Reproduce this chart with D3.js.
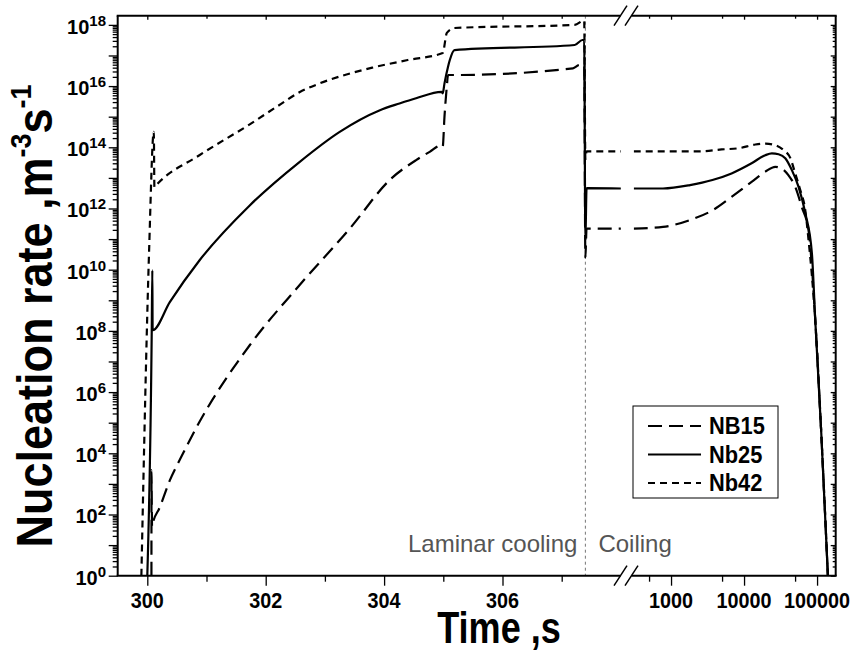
<!DOCTYPE html>
<html><head><meta charset="utf-8">
<script src="https://cdn.jsdelivr.net/npm/d3@7"></script>
<style>html,body{margin:0;padding:0;background:#fff;}svg{display:block;font-family:"Liberation Sans",Arial,Helvetica,sans-serif;}</style>
</head><body>
<svg id="chart" width="856" height="653"></svg>
<script>
// ---------- data ----------
const laminarTicks = [300, 302, 304, 306];
const laminarMinorTicks = [301, 303, 305, 307];
const coilingTicks = [1000, 10000, 100000];
const coilingMinorTicks = [500, 5000, 50000];
const yTickExponents = [0, 2, 4, 6, 8, 10, 12, 14, 16, 18];
const seriesNames = ["NB15", "Nb25", "Nb42"];
const phaseLabels = ["Laminar cooling", "Coiling"];
const phaseBoundary = 307.4;

const nb15LaminarTime = [300.07, 300.071, 300.08, 300.09, 300.21, 300.38, 300.57, 300.88, 301.73, 302.57, 303.42, 304.12, 304.54, 304.77, 304.97, 304.99, 305.02, 305.06, 305.08, 305.19, 307.19, 307.30, 307.38, 307.40, 307.42, 308.0];
const nb15LaminarRate = [1, 2.8e3, 40, 49, 170, 1.3e3, 7.4e3, 1.05e5, 3.4e7, 3.1e9, 2.2e11, 9.5e12, 3.8e13, 7.1e13, 1.17e14, 1.05e14, 1.0e15, 1.0e16, 2.3e16, 2.3e16, 3.8e16, 4.9e16, 4.9e16, 2.5e10, 2.2e11, 2.2e11];
const nb15CoilingTime = [308, 776, 1819, 3687, 6744, 12690, 19530, 26770, 32960, 40700, 50290, 61930, 76500, 84900, 94500, 114200, 140700];
const nb15CoilingRate = [2.2e11, 2.5e11, 4.2e11, 8.7e11, 2.4e12, 7.4e12, 1.6e13, 2.3e13, 2.0e13, 1.2e13, 5.1e12, 1.1e12, 1.9e11, 1.3e10, 2.2e8, 4.5e4, 1];

const nb25LaminarTime = [300.0, 300.075, 300.085, 300.09, 300.38, 300.88, 301.73, 302.57, 303.25, 303.92, 304.26, 304.54, 304.97, 304.99, 305.02, 305.08, 305.11, 305.19, 307.22, 307.35, 307.38, 307.40, 307.42, 308.0];
const nb25LaminarRate = [1, 1.0e8, 9.5e9, 1.05e8, 8.7e8, 2.0e10, 1.26e12, 3.3e13, 3.2e14, 1.6e15, 2.7e15, 4.0e15, 6.5e15, 5.8e15, 1.23e16, 4.3e16, 7.1e16, 1.5e17, 2.2e17, 3.2e17, 3.2e17, 9.1e10, 4.6e12, 4.5e12];
const nb25CoilingTime = [308, 776, 1819, 3687, 6744, 12690, 19530, 24040, 29700, 36690, 45170, 55810, 68960, 84900, 94500, 114200, 140700];
const nb25CoilingRate = [4.5e12, 4.5e12, 5.8e12, 8.5e12, 1.4e13, 3.0e13, 5.5e13, 6.3e13, 5.9e13, 4.4e13, 1.8e13, 5.1e12, 7.1e11, 3.5e10, 2.2e8, 4.5e4, 1];

const nb42LaminarTime = [299.90, 300.03, 300.11, 300.12, 300.15, 300.88, 301.73, 302.2, 302.57, 302.9, 303.3, 303.8, 304.4, 304.99, 305.06, 305.19, 307.22, 307.38, 307.40, 307.42, 308.0];
const nb42LaminarRate = [1, 4.0e10, 3.2e14, 5.0e12, 5.8e12, 5.5e13, 5.6e14, 2.2e15, 6.3e15, 1.2e16, 2.2e16, 4.0e16, 7.1e16, 1.2e17, 5.5e17, 7.9e17, 1.0e18, 1.4e18, 4.0e13, 7.4e13, 7.4e13];
const nb42CoilingTime = [308, 2494, 4920, 8417, 14240, 19710, 26770, 34770, 42950, 50290, 58880, 68960, 76500, 84900, 94500, 114200, 140700];
const nb42CoilingRate = [7.4e13, 7.4e13, 8.5e13, 9.3e13, 1.23e14, 1.32e14, 1.17e14, 8.1e13, 4.5e13, 1.38e13, 4.0e12, 8.7e11, 9.1e10, 6.6e9, 2.2e8, 4.5e4, 1];

// ---------- layout ----------
const X0 = 117.7, XB1 = 620.9, XB2 = 633.7, X1 = 835.7, Y0 = 575.7, Y1 = 15.7;
const xL = d3.scaleLinear().domain([299.5, 308.0]).range([X0, XB1]);
const xR = d3.scaleLog().domain([308, 1.8e5]).range([XB2, X1]);
const y = d3.scaleLog().domain([1, Math.pow(10, 18.3)]).range([Y0, Y1]);

const styles = {
  NB15: {dash: "14,7", w: 2.2},
  Nb25: {dash: null, w: 2.2},
  Nb42: {dash: "7,5", w: 2.2}
};
const series = [
  {name: "NB15", lt: nb15LaminarTime, lr: nb15LaminarRate, ct: nb15CoilingTime, cr: nb15CoilingRate},
  {name: "Nb25", lt: nb25LaminarTime, lr: nb25LaminarRate, ct: nb25CoilingTime, cr: nb25CoilingRate},
  {name: "Nb42", lt: nb42LaminarTime, lr: nb42LaminarRate, ct: nb42CoilingTime, cr: nb42CoilingRate}
];

const svg = d3.select("#chart");
const defs = svg.append("defs");
defs.append("clipPath").attr("id", "clipL").append("rect").attr("x", X0).attr("y", Y1).attr("width", XB1 - X0).attr("height", Y0 - Y1);
defs.append("clipPath").attr("id", "clipR").append("rect").attr("x", XB2).attr("y", Y1).attr("width", X1 - XB2).attr("height", Y0 - Y1);

function label(parent, x, yy, anchor, size, weight, fill, sx, parts, extra) {
  const g = parent.append("g").attr("transform", `translate(${x},${yy}) ${extra || ""} scale(${sx},1)`);
  const t = g.append("text").attr("text-anchor", anchor).attr("font-size", size).attr("font-weight", weight).attr("fill", fill);
  parts.forEach(p => {
    const ts = t.append("tspan").text(p.text);
    if (p.size) ts.attr("font-size", p.size);
    if (p.dy) ts.attr("dy", p.dy);
  });
  return g;
}

// phase boundary line
svg.append("line").attr("x1", xL(phaseBoundary)).attr("x2", xL(phaseBoundary)).attr("y1", Y1).attr("y2", Y0)
  .attr("stroke", "#777").attr("stroke-width", 1).attr("stroke-dasharray", "3,3");

// curves
const lineL = d3.line().x(d => xL(d[0])).y(d => y(d[1])).curve(d3.curveMonotoneX);
const lineR = d3.line().x(d => xR(d[0])).y(d => y(d[1])).curve(d3.curveMonotoneX);
const gL = svg.append("g").attr("clip-path", "url(#clipL)");
const gR = svg.append("g").attr("clip-path", "url(#clipR)");
series.forEach(s => {
  const st = styles[s.name];
  gL.append("path").datum(d3.zip(s.lt, s.lr)).attr("d", lineL).attr("fill", "none").attr("stroke", "#000")
    .attr("stroke-width", st.w).attr("stroke-dasharray", st.dash).attr("stroke-linejoin", "round");
  gR.append("path").datum(d3.zip(s.ct, s.cr)).attr("d", lineR).attr("fill", "none").attr("stroke", "#000")
    .attr("stroke-width", st.w).attr("stroke-dasharray", st.dash).attr("stroke-linejoin", "round");
});

// ---------- axes ----------
const yMinor = [];
for (let e = 0; e < 19; e++) for (let m = 2; m <= 9; m++) { const v = m * Math.pow(10, e); if (v <= y.domain()[1]) yMinor.push(v); }
const yDecades = d3.range(0, 19).map(e => Math.pow(10, e));
const leftAx = svg.append("g").attr("transform", `translate(${X0},0)`);
leftAx.call(d3.axisLeft(y).tickValues(yDecades).tickSize(9).tickFormat(""));
leftAx.append("g").call(d3.axisLeft(y).tickValues(yMinor).tickSize(5).tickFormat(""));
const rightAx = svg.append("g").attr("transform", `translate(${X1},0)`);
rightAx.call(d3.axisRight(y).tickValues(yDecades).tickSize(-5).tickFormat(""));
rightAx.append("g").call(d3.axisRight(y).tickValues(yMinor).tickSize(-3).tickFormat(""));
const botL = svg.append("g").attr("transform", `translate(0,${Y0})`);
botL.call(d3.axisBottom(xL).tickValues(laminarTicks).tickSize(10).tickFormat(""));
botL.append("g").call(d3.axisBottom(xL).tickValues(laminarMinorTicks).tickSize(6).tickFormat(""));
const botR = svg.append("g").attr("transform", `translate(0,${Y0})`);
botR.call(d3.axisBottom(xR).tickValues(coilingTicks).tickSize(10).tickFormat(""));
botR.append("g").call(d3.axisBottom(xR).tickValues(coilingMinorTicks).tickSize(6).tickFormat(""));
const topL = svg.append("g").attr("transform", `translate(0,${Y1})`);
topL.call(d3.axisTop(xL).tickValues(laminarTicks).tickSize(-4).tickFormat(""));
topL.append("g").call(d3.axisTop(xL).tickValues(laminarMinorTicks).tickSize(-3).tickFormat(""));
const topR = svg.append("g").attr("transform", `translate(0,${Y1})`);
topR.call(d3.axisTop(xR).tickValues(coilingTicks).tickSize(-4).tickFormat(""));
topR.append("g").call(d3.axisTop(xR).tickValues(coilingMinorTicks).tickSize(-3).tickFormat(""));
svg.selectAll(".domain").remove();
svg.selectAll(".tick line").attr("stroke", "#000").attr("stroke-width", 1.3);

// frame with breaks
const frame = svg.append("g").attr("stroke", "#000").attr("stroke-width", 2).attr("fill", "none");
const bx1 = 620.5, bx2 = 631.5;
[Y0, Y1].forEach(yy => {
  frame.append("line").attr("x1", X0 - 1).attr("x2", bx1).attr("y1", yy).attr("y2", yy);
  frame.append("line").attr("x1", bx2).attr("x2", X1 + 1).attr("y1", yy).attr("y2", yy);
  [bx1, bx2].forEach(bx => frame.append("line").attr("stroke-width", 1.5)
    .attr("x1", bx - 6.5).attr("y1", yy + 10).attr("x2", bx + 6.5).attr("y2", yy - 10));
});
frame.append("line").attr("x1", X0).attr("x2", X0).attr("y1", Y1).attr("y2", Y0);
frame.append("line").attr("x1", X1).attr("x2", X1).attr("y1", Y1).attr("y2", Y0);

// ---------- tick labels ----------
laminarTicks.forEach(t => label(svg, xL(t), 608, "middle", 22, "bold", "#000", 0.9, [{text: String(t)}]));
coilingTicks.forEach(t => label(svg, xR(t), 608, "middle", 22, "bold", "#000", 0.9, [{text: String(t)}]));
yTickExponents.forEach(e => label(svg, 106, y(Math.pow(10, e)) + 9, "end", 20, "bold", "#000", 1,
  [{text: "10"}, {text: String(e), size: 15, dy: -8}]));

// ---------- phase labels ----------
label(svg, xL(phaseBoundary) - 8, 552, "end", 24, "normal", "#555", 1, [{text: phaseLabels[0]}]);
label(svg, xL(phaseBoundary) + 13, 552, "start", 24, "normal", "#555", 1, [{text: phaseLabels[1]}]);

// ---------- axis titles ----------
label(svg, 499, 643, "middle", 44, "bold", "#000", 0.82, [{text: "Time ,s"}]);
label(svg, 52, 316, "middle", 50, "bold", "#000", 0.9,
  [{text: "Nucleation rate ,m"}, {text: "-3", size: 30, dy: -21}, {text: "s", dy: 21}, {text: "-1", size: 30, dy: -21}],
  "rotate(-90)");

// ---------- legend ----------
const lg = svg.append("g");
lg.append("rect").attr("x", 633).attr("y", 406).attr("width", 145).attr("height", 92)
  .attr("fill", "#fff").attr("stroke", "#000").attr("stroke-width", 1);
seriesNames.forEach((n, i) => {
  const yy = 426 + i * 28.5;
  lg.append("line").attr("x1", 648).attr("x2", 701).attr("y1", yy).attr("y2", yy)
    .attr("stroke", "#000").attr("stroke-width", styles[n].w).attr("stroke-dasharray", styles[n].dash);
  label(lg, 709, yy + 8, "start", 23, "bold", "#000", 0.95, [{text: n}]);
});
</script>
</body></html>
